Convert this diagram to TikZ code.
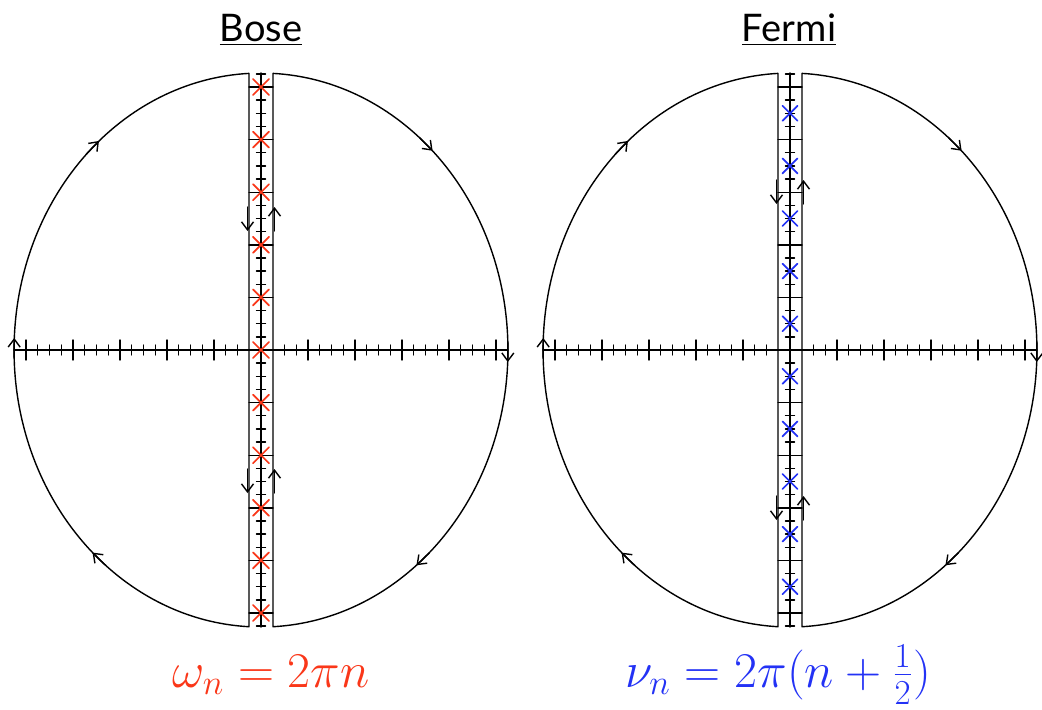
\documentclass[tikz,border=0pt]{standalone}
\usepackage{fix-cm}
\usepackage{fontspec}
\setsansfont{Lato}
\usetikzlibrary{arrows.meta}
\definecolor{boseRed}{RGB}{250,55,25}
\definecolor{fermiBlue}{RGB}{35,50,245}
\begin{document}
\begin{tikzpicture}[x=0.5pt, y=0.5pt, line width=0.7pt, line join=round, line cap=round,
    >={Straight Barb[length=4pt,width=6pt]},
    title/.style={font=\sffamily\fontsize{19}{23}\selectfont, anchor=base},
    formula/.style={font=\fontsize{25}{30}\selectfont, anchor=base},
    polemark/.style={line width=0.85pt}]
  \useasboundingbox (0,0) rectangle (1042,709);
  % Hai mặt phẳng phức: Bose (trái) và Fermi (phải)
  \foreach \cx/\ya/\yb in {261/143/119, 790/170/146} {
    \begin{scope}[shift={(\cx,359)}]
      % Hai nửa đường bao
      \draw (-12,276.7) -- (-12,-276.7) arc (267.2:92.8:247 and 277);
      \draw (12,276.7) -- (12,-276.7) arc (-87.2:87.2:247 and 277);
      % Các trục
      \draw (0,-277) -- (0,277);
      \draw (-247,0) -- (247,0);
      % Vạch chia trên trục đứng
      \foreach \j in {-21,...,21}
        \draw (-4.5,\j*13.15) -- (4.5,\j*13.15);
      \foreach \k in {-5,...,5}
        \draw (-12,\k*52.6) -- (12,\k*52.6);
      % Vạch chia trên trục ngang
      \foreach \k in {2,...,20}
        \draw (\k*11.75,-5) -- (\k*11.75,5) (-\k*11.75,-5) -- (-\k*11.75,5);
      \foreach \k in {4,8,...,20}
        \draw (\k*11.75,-10) -- (\k*11.75,10) (-\k*11.75,-10) -- (-\k*11.75,10);
      % Mũi tên chiều đi trên đường bao
      \foreach \t in {227,177.5,131,46,-2.5,-51}
        \draw[->] (\t+4:247 and 277) -- (\t:247 and 277);
      \draw[->] (-13.5,\ya) -- (-13.5,\yb);
      \draw[->] (13.5,\yb) -- (13.5,\ya);
      \draw[->] (-13.5,-\yb) -- (-13.5,-\ya);
      \draw[->] (13.5,-\ya) -- (13.5,-\yb);
    \end{scope}
  }
  % Các cực
  \foreach \k in {-5,...,5}
    \draw[boseRed, polemark] (261,359+\k*52.6) ++(-8,-8) -- ++(16,16) ++(-16,0) -- ++(16,-16);
  \foreach \k in {-5,...,4}
    \draw[fermiBlue, polemark] (790,{359+(\k+0.5)*52.6}) ++(-7.5,-7.5) -- ++(15,15) ++(-15,0) -- ++(15,-15);
  % Tiêu đề và công thức
  \node[title] (boseTitle) at (261,668) {\underline{Bose}};
  \node[title] (fermiTitle) at (789,668) {\underline{Fermi}};
  \node[formula, boseRed] (boseFormula) at (271,22) {$\omega_n = 2\pi n$};
  \node[formula, fermiBlue] (fermiFormula) at (778,22) {$\nu_n = 2\pi(n+\frac{1}{2})$};
\end{tikzpicture}
\end{document}
